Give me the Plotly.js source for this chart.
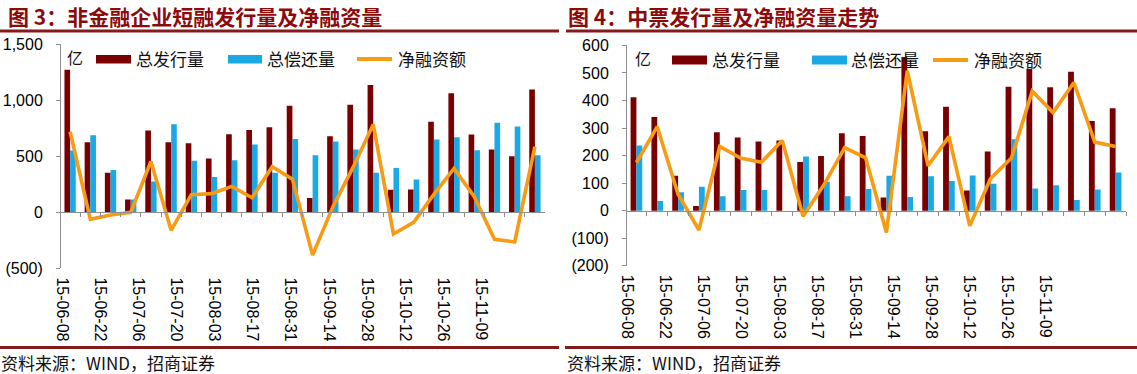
<!DOCTYPE html>
<html>
<head>
<meta charset="utf-8">
<script src="https://cdn.plot.ly/plotly-3.0.1.min.js"></script>
<style>html,body{margin:0;padding:0;background:#fff;}#chart{width:1137px;height:374px;}</style>
</head>
<body>
<div id="chart"></div>
<script>
// ---- data ----
const dates = ["15-06-08","15-06-15","15-06-22","15-06-29","15-07-06","15-07-13","15-07-20","15-07-27",
  "15-08-03","15-08-10","15-08-17","15-08-24","15-08-31","15-09-07","15-09-14","15-09-21",
  "15-09-28","15-10-05","15-10-12","15-10-19","15-10-26","15-11-02","15-11-09","15-11-16"];
const tickLabels = ["15-06-08","15-06-22","15-07-06","15-07-20","15-08-03","15-08-17",
  "15-08-31","15-09-14","15-09-28","15-10-12","15-10-26","15-11-09"];

// 图3 非金融企业短融 (亿)
const cpIssue  = [1270,625,352,115,728,625,616,480,696,734,758,950,127,678,959,1134,201,204,808,1060,693,559,500,1095];
const cpRepay  = [551,687,376,115,275,784,459,314,465,604,352,654,509,630,559,352,394,293,648,669,554,799,764,509];
const cpNet    = [719,-62,-24,0,453,-159,157,166,231,130,406,296,-382,48,400,782,-193,-89,160,391,139,-240,-264,586];

// 图4 中票 (亿)
const mtnIssue = [412,340,127,17,285,266,251,255,177,199,281,271,48,558,288,377,73,215,450,515,448,504,326,372];
const mtnRepay = [237,35,67,87,52,75,75,0,197,105,52,79,127,50,125,108,128,98,259,81,92,39,77,139];
const mtnNet   = [175,305,60,-70,233,191,176,255,-20,94,229,192,-79,508,163,269,-55,117,191,434,356,465,249,233];

const yTicks1 = [-500,0,500,1000,1500];
const yText1  = ["(500)","0","500","1,000","1,500"];
const yTicks2 = [-200,-100,0,100,200,300,400,500,600];
const yText2  = ["(200)","(100)","0","100","200","300","400","500","600"];

const names = {issue:"总发行量", repay:"总偿还量", net:"净融资额"};
const titles = ["图 3：非金融企业短融发行量及净融资量", "图 4：中票发行量及净融资量走势"];
const sourceText = "资料来源：WIND，招商证券";
const unitText = "亿";

// ---- style ----
const W = 1137, H = 374;
const px = x => x / W, py = y => 1 - y / H;
const RED = "#780000", BLUE = "#1BA9E5", ORANGE = "#F79A14", RULE = "#861A1A", AX = "#8E8E8E";
const NUM_FONT = "Liberation Sans, Arial, sans-serif";
const CJK_FONT = "Noto Sans CJK SC, sans-serif";

const tickIdx = tickLabels.map(l => dates.indexOf(l));

const traces = [
  {type:"bar", x:dates, y:cpIssue, name:names.issue, marker:{color:RED}, xaxis:"x", yaxis:"y"},
  {type:"bar", x:dates, y:cpRepay, name:names.repay, marker:{color:BLUE}, xaxis:"x", yaxis:"y"},
  {type:"scatter", mode:"lines", x:dates, y:cpNet, name:names.net, line:{color:ORANGE, width:3.6}, xaxis:"x", yaxis:"y"},
  {type:"bar", x:dates, y:mtnIssue, name:names.issue, marker:{color:RED}, xaxis:"x2", yaxis:"y2"},
  {type:"bar", x:dates, y:mtnRepay, name:names.repay, marker:{color:BLUE}, xaxis:"x2", yaxis:"y2"},
  {type:"scatter", mode:"lines", x:dates, y:mtnNet, name:names.net, line:{color:ORANGE, width:3.6}, xaxis:"x2", yaxis:"y2"},
  // empty helper traces that register the date-label axes
  {type:"scatter", mode:"none", x:[null], y:[null], xaxis:"x3", yaxis:"y", hoverinfo:"skip"},
  {type:"scatter", mode:"none", x:[null], y:[null], xaxis:"x4", yaxis:"y2", hoverinfo:"skip"}
];

function catAxis(dom, zeroY) {
  return {domain:dom, type:"category", categoryarray:dates, categoryorder:"array",
    range:[-0.5, dates.length-0.5], anchor:"free", position:py(zeroY),
    showline:true, linecolor:AX, linewidth:1, ticks:"outside", tickson:"boundaries",
    ticklen:4, tickcolor:AX, showticklabels:false, showgrid:false, zeroline:false, fixedrange:true};
}
function valAxis(dom, xpos, range, tv, tt) {
  return {domain:dom, range:range, anchor:"free", position:px(xpos),
    tickvals:tv, ticktext:tt, ticks:"outside", ticklen:4, tickcolor:AX,
    showline:true, linecolor:AX, linewidth:1, showgrid:false, zeroline:false,
    tickfont:{family:NUM_FONT, size:16, color:"#000"}, ticklabelstandoff:10, fixedrange:true};
}
function labelAxis(over, anchor, dom, range) {
  return {overlaying:over, anchor:anchor, domain:dom, type:"linear", range:range,
    tickvals:tickIdx, ticktext:tickLabels, tickangle:90, ticks:"", showline:false,
    showgrid:false, zeroline:false, tickfont:{family:NUM_FONT, size:16, color:"#000"},
    ticklabelstandoff:8, fixedrange:true};
}

const shapes = [];
function rect(x0,x1,y0,y1,color){shapes.push({type:"rect",xref:"paper",yref:"paper",x0:px(x0),x1:px(x1),y0:py(y1),y1:py(y0),fillcolor:color,line:{width:0}});}
function hline(x0,x1,y,color,w){shapes.push({type:"line",xref:"paper",yref:"paper",x0:px(x0),x1:px(x1),y0:py(y),y1:py(y),line:{color:color,width:w}});}
// rules
rect(0,559,29.5,32.5,RULE); rect(566,1137,29.5,32.5,RULE);
rect(0,559,346,349,RULE);   rect(565,1137,346,349,RULE);
// legend swatches
rect(96,131,55,63.5,RED); rect(228,262,55,63.5,BLUE); hline(357,392,59,ORANGE,4);
rect(672,707,55.5,64.5,RED); rect(812,847,55.5,64.5,BLUE); hline(933,968,60,ORANGE,4);

const annotations = [];
function txt(t,x,y,size,color,weight,anchor){annotations.push({text:t,xref:"paper",yref:"paper",x:px(x),y:py(y),
  xanchor:anchor||"left",yanchor:"middle",showarrow:false,font:{family:CJK_FONT,size:size,color:color,weight:weight||400}});}
txt(titles[0],6,16,21,"#8B0A0A",700);
txt(titles[1],566,16,21,"#8B0A0A",700);
txt(sourceText,-1,362,17,"#111");
txt(sourceText,565,362,17,"#111");
txt(unitText,65,57,16,"#111"); txt(unitText,633,58,16,"#111");
txt(names.issue,134,59,17,"#111"); txt(names.repay,265,59,17,"#111"); txt(names.net,396,59,17,"#111");
txt(names.issue,710,60,17,"#111"); txt(names.repay,849,60,17,"#111"); txt(names.net,972,60,17,"#111");

const layout = {
  width:W, height:H, margin:{l:0,r:0,t:0,b:0}, paper_bgcolor:"#fff", plot_bgcolor:"rgba(0,0,0,0)",
  showlegend:false, barmode:"group", bargap:0.44, bargroupgap:0,
  xaxis: catAxis([px(60),px(545)], 212.3),
  yaxis: valAxis([py(268.4),py(44)], 60, [-500,1500], yTicks1, yText1),
  xaxis2: catAxis([px(626),px(1126)], 210.7),
  yaxis2: valAxis([py(265.8),py(45.4)], 626, [-200,600], yTicks2, yText2),
  xaxis3: labelAxis("x","y",[px(60),px(545)],[-0.105,25.354]),
  xaxis4: labelAxis("x2","y2",[px(626),px(1126)],[-0.037,26.22]),
  shapes:shapes, annotations:annotations
};
Plotly.newPlot("chart", traces, layout, {staticPlot:true, displayModeBar:false});
</script>
</body>
</html>
